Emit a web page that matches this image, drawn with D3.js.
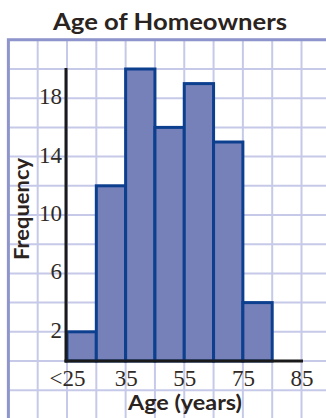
<!DOCTYPE html>
<html><head><meta charset="utf-8">
<script src="https://cdn.jsdelivr.net/npm/d3@7"></script>
<style>html,body{margin:0;padding:0;background:#fff;}svg{display:block;}</style>
</head><body>
<svg id="chart" width="326" height="418"></svg>
<script>
const title = "Age of Homeowners";
const xTitle = "Age (years)";
const yTitle = "Frequency";
const categories = ["<25", "25–35", "35–45", "45–55", "55–65", "65–75", "75–85"];
const frequencies = [2, 12, 20, 16, 19, 15, 4];
const xTickLabels = ["<25", "35", "55", "75", "85"];
const xTickSlots = [0, 2, 4, 6, 8];
const yTicks = [2, 6, 10, 14, 18];

const svg = d3.select("#chart");
const x = d3.scaleLinear().domain([0, 8]).range([67, 301.5]);
const y = d3.scaleLinear().domain([0, 22]).range([361, 39.8]);

// grid
const g = svg.append("g");
d3.range(-2, 10).forEach(i => {
  g.append("line").attr("x1", x(i)).attr("x2", x(i)).attr("y1", 40).attr("y2", 418)
    .attr("stroke", "#c6cae8").attr("stroke-width", 2);
});
d3.range(-4, 23, 2).forEach(v => {
  g.append("line").attr("x1", 9).attr("x2", 326).attr("y1", y(v)).attr("y2", y(v))
    .attr("stroke", "#c6cae8").attr("stroke-width", 2);
});
// outer border (left & top)
g.append("path").attr("d", `M${x(-2)},418 V${y(22)} H326`)
  .attr("fill", "none").attr("stroke", "#8e95cc").attr("stroke-width", 3);

// bars
svg.append("g").selectAll("rect").data(frequencies).join("rect")
  .attr("x", (d, i) => x(i))
  .attr("y", d => y(d))
  .attr("width", x(1) - x(0))
  .attr("height", d => y(0) - y(d))
  .attr("fill", "#7781b9")
  .attr("stroke", "#0d3f8f")
  .attr("stroke-width", 3);

// axes
svg.append("line").attr("x1", 66).attr("x2", 66).attr("y1", y(20) - 1).attr("y2", y(0) + 1.5)
  .attr("stroke", "#1a1a1a").attr("stroke-width", 3);
svg.append("line").attr("x1", 64.5).attr("x2", x(8) + 1.5).attr("y1", y(0)).attr("y2", y(0))
  .attr("stroke", "#1a1a1a").attr("stroke-width", 3);

// y tick labels
svg.append("g").selectAll("text").data(yTicks).join("text")
  .attr("x", 62).attr("y", d => y(d) + 6)
  .attr("text-anchor", "end")
  .attr("font-family", "Liberation Serif, serif").attr("font-size", 23)
  .attr("fill", "#2f2a25")
  .text(d => d);

// x tick labels
svg.append("g").selectAll("text").data(xTickLabels).join("text")
  .attr("x", (d, i) => x(xTickSlots[i]) + 0.5).attr("y", 386)
  .attr("text-anchor", "middle")
  .attr("font-family", "Liberation Serif, serif").attr("font-size", 23)
  .attr("fill", "#2f2a25")
  .text(d => d);

// title
svg.append("text").attr("x", 170).attr("y", 30)
  .attr("text-anchor", "middle")
  .attr("font-family", "Lato, sans-serif").attr("font-weight", "bold").attr("font-size", 23)
  .attr("fill", "#2b2320")
  .attr("textLength", 234).attr("lengthAdjust", "spacingAndGlyphs")
  .text(title);

// x title
svg.append("text").attr("x", 185).attr("y", 410)
  .attr("text-anchor", "middle")
  .attr("font-family", "Lato, sans-serif").attr("font-weight", "bold").attr("font-size", 20)
  .attr("fill", "#2b2320")
  .attr("textLength", 114).attr("lengthAdjust", "spacingAndGlyphs")
  .text(xTitle);

// y title
svg.append("text").attr("transform", "translate(29,209) rotate(-90)")
  .attr("text-anchor", "middle")
  .attr("font-family", "Lato, sans-serif").attr("font-weight", "bold").attr("font-size", 20)
  .attr("fill", "#2b2320")
  .attr("textLength", 102).attr("lengthAdjust", "spacingAndGlyphs")
  .text(yTitle);
</script>
</body></html>
